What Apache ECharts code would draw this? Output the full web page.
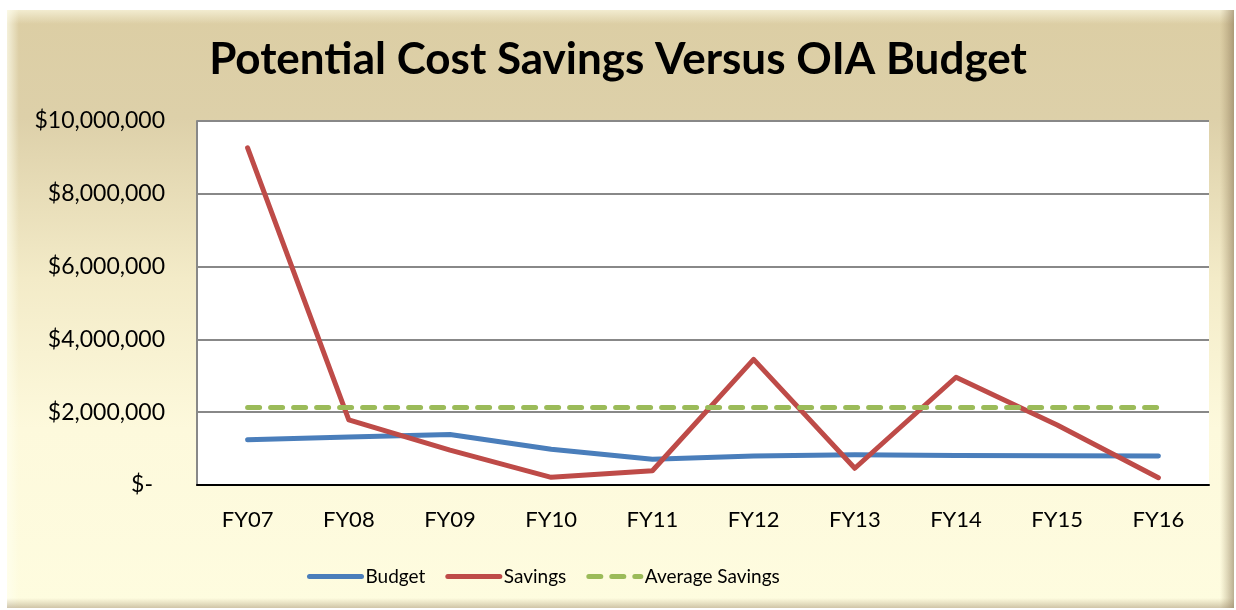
<!DOCTYPE html>
<html><head><meta charset="utf-8">
<script src="https://cdn.jsdelivr.net/npm/echarts@6/dist/echarts.min.js"></script>
<style>html,body{margin:0;padding:0;background:#fff}#c{width:1236px;height:610px}</style>
</head><body><div id="c"></div>
<script>
const categories = ['FY07','FY08','FY09','FY10','FY11','FY12','FY13','FY14','FY15','FY16'];
const budget = [1240000, 1320000, 1390000, 980000, 710000, 800000, 830000, 810000, 805000, 800000];
const savings = [9260000, 1790000, 960000, 210000, 390000, 3450000, 460000, 2960000, 1650000, 200000];
const averageSavings = [2130000, 2130000, 2130000, 2130000, 2130000, 2130000, 2130000, 2130000, 2130000, 2130000];
const yTicks = [0, 2000000, 4000000, 6000000, 8000000, 10000000];

const FONT = 'Lato, "Open Sans", sans-serif';
const chart = echarts.init(document.getElementById('c'), null, {renderer:'canvas'});
chart.setOption({
  backgroundColor: '#ffffff',
  animation: false,
  graphic: [
    {type:'rect', z:-10, shape:{x:7,y:10,width:1227,height:598},
     style:{fill:new echarts.graphic.LinearGradient(0,0,0,1,[
       {offset:0,color:'#dccea4'},{offset:0.18,color:'#ddd0a9'},{offset:0.45,color:'#f3ebc8'},{offset:0.7,color:'#fdf9dc'},{offset:1,color:'#fefcdf'}])}},
    {type:'rect', z:-9, shape:{x:7,y:10,width:1227,height:14},
     style:{fill:new echarts.graphic.LinearGradient(0,0,0,1,[{offset:0,color:'#f2ecd0'},{offset:1,color:'rgba(242,236,208,0)'}])}},
    {type:'rect', z:-9, shape:{x:7,y:10,width:12,height:598},
     style:{fill:new echarts.graphic.LinearGradient(0,0,1,0,[{offset:0,color:'rgba(255,255,240,0.7)'},{offset:1,color:'rgba(255,255,240,0)'}])}},
    {type:'rect', z:-9, shape:{x:1220,y:10,width:14,height:598},
     style:{fill:new echarts.graphic.LinearGradient(0,0,1,0,[{offset:0,color:'rgba(160,140,100,0)'},{offset:1,color:'rgba(130,110,80,0.55)'}])}},
    {type:'rect', z:-9, shape:{x:7,y:598,width:1227,height:10},
     style:{fill:new echarts.graphic.LinearGradient(0,0,0,1,[{offset:0,color:'rgba(160,140,100,0)'},{offset:1,color:'rgba(150,130,100,0.45)'}])}}
  ],
  title: {
    text: 'Potential Cost Savings Versus OIA Budget',
    left: 'center', top: 33,
    textStyle: {fontFamily: FONT, fontWeight: 'bold', fontSize: 44, color: '#000'}
  },
  legend: {
    top: 562, left: 302,
    itemWidth: 52, itemHeight: 14, itemGap: 20,
    itemStyle: {opacity: 0},
    lineStyle: {width: 5, cap: 'round'},
    textStyle: {fontFamily: FONT, fontSize: 19, color: '#000', padding:[0,0,0,-1]},
    data: ['Budget','Savings','Average Savings']
  },
  grid: {left: 197, right: 27, top: 121, bottom: 125, show: true, backgroundColor: '#ffffff', borderWidth: 0},
  xAxis: {
    type: 'category', data: categories, boundaryGap: true,
    axisLine: {lineStyle: {color: '#000', width: 2}},
    axisTick: {show: false},
    axisLabel: {fontFamily: FONT, fontSize: 22, color: '#000', margin: 24}
  },
  yAxis: {
    type: 'value', min: yTicks[0], max: yTicks[yTicks.length-1], interval: yTicks[1]-yTicks[0],
    axisLine: {show: true, lineStyle: {color: '#888', width: 2}},
    axisTick: {show: false},
    splitLine: {lineStyle: {color: '#888', width: 2}},
    axisLabel: {
      fontFamily: FONT, fontSize: 23, color: '#000', margin: 32,
      formatter: v => v === 0 ? '{z|$-}' : '$' + v.toLocaleString('en-US'),
      rich: {z: {fontFamily: FONT, fontSize: 23, color: '#000', padding: [0, 12, 0, 0]}}
    }
  },
  series: [
    {name:'Budget', type:'line', data: budget, showSymbol:false, symbol:'none',
     lineStyle:{color:'#4a7ebb', width:5, cap:'round', join:'round'}, itemStyle:{color:'#4a7ebb'}},
    {name:'Savings', type:'line', data: savings, showSymbol:false, symbol:'none',
     lineStyle:{color:'#be4b48', width:5, cap:'round', join:'round'}, itemStyle:{color:'#be4b48'}},
    {name:'Average Savings', type:'line', data: averageSavings, showSymbol:false, symbol:'none',
     lineStyle:{color:'#9bbb59', width:5, type:[12,11], cap:'round'}, itemStyle:{color:'#9bbb59'}}
  ]
});
</script></body></html>
